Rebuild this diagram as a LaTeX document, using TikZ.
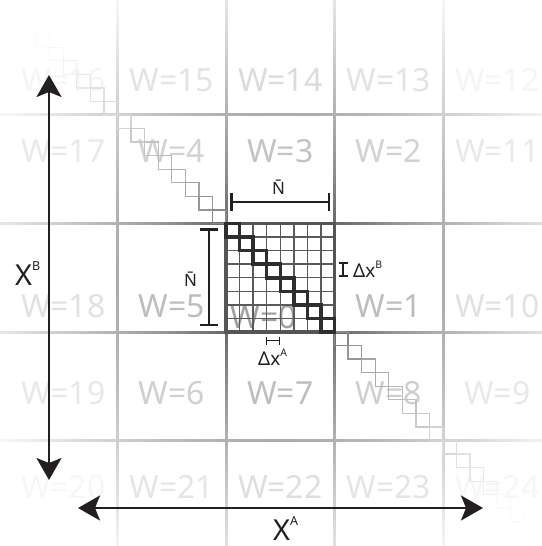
\documentclass[tikz,border=0pt]{standalone}
\usepackage{fontspec}
\setmainfont{Noto Sans}
\usetikzlibrary{arrows.meta}
\definecolor{ink}{HTML}{231F20}
\definecolor{gridc}{HTML}{555555}
\definecolor{labc}{HTML}{A0A0A0}
\definecolor{stairc}{HTML}{707070}
\definecolor{finec}{HTML}{5A5A5A}
\definecolor{diagc}{HTML}{2E2E2E}
\newcommand\upsc[3]{\raisebox{#1}{\fontsize{#2}{#2}\selectfont #3}}
% fade factor (in percent) at a point, from its distance to the centre of the grid
\newcommand\fadeat[2]{%
  \pgfmathsetmacro\fd{veclen((#1)-280.25,(#2)-277.75)}%
  \pgfmathsetmacro\fo{100*(\fd<54 ? 1 : (\fd<121 ? 1-(\fd-54)*0.35/67 : (\fd<165 ? 0.65-(\fd-121)*0.17/44 : (\fd<227 ? 0.48-(\fd-165)*0.19/62 : (\fd<274 ? 0.29-(\fd-227)*0.12/47 : (\fd<315 ? 0.17-(\fd-274)*0.11/41 : (\fd<350 ? 0.06-(\fd-315)*0.06/35 : 0)))))))}%
}
\begin{document}
\begin{tikzpicture}[x=1bp,y=-1bp,
  wlab/.style={font=\fontsize{32}{32}\selectfont, inner sep=0pt, anchor=base},
  gline/.style={line width=3bp, line cap=butt},
  stair/.style={line width=1.3bp},
  fine/.style={draw=finec, line width=1.4bp},
  diagsq/.style={draw=diagc, line width=3.5bp},
  dimbar/.style={draw=ink, line width=2.5bp},
  bigarrow/.style={draw=ink, line width=2.2bp, >={Stealth[length=22bp,width=25bp,inset=5bp]}, <->},
  ann/.style={text=ink, inner sep=0pt, anchor=base west},
  annc/.style={text=ink, inner sep=0pt, anchor=base}
]
\useasboundingbox (0,0) rectangle (542,546);
\def\s{13.5625}
% grid lines, fading away from the centre
\foreach \v in {117.5,226,334.5,443} {
  \foreach \y in {0,4,...,544} {
    \fadeat{\v}{\y+2}
    \draw[gline, draw=gridc!\fo!white] (\v,\y) -- (\v,\y+4.4);
  }
}
\foreach \h in {115,223.5,332,440.5} {
  \foreach \x in {0,4,...,540} {
    \fadeat{\x+2}{\h}
    \draw[gline, draw=gridc!\fo!white] (\x,\h) -- (\x+4.4,\h);
  }
}
% cell labels
\foreach \lab/\cx/\by in {16/63.25/92, 15/171.75/92, 14/280.25/92, 13/388.75/92, 12/497.25/92,
    17/63.25/163, 4/171.75/163, 3/280.25/163, 2/388.75/163, 11/497.25/163,
    18/63.25/317, 5/171.75/317, 0/264/328, 1/388.75/317, 10/497.25/317,
    19/63.25/404, 6/171.75/404, 7/280.25/404, 8/388.75/404, 9/497.25/404,
    20/63.25/498, 21/171.75/498, 22/280.25/498, 23/388.75/498, 24/497.25/498} {
  \fadeat{\cx}{\by-11}
  \node[wlab, text=labc!\fo!white] (w\lab) at (\cx,\by) {W=\lab};
}
% staircases in the diagonal cells
\foreach \cx/\cy in {9/6.5, 117.5/115, 334.5/332, 443/440.5} {
  \foreach \k in {0,...,7} {
    \fadeat{\cx+\k*\s+6.8}{\cy+\k*\s+6.8}
    \draw[stair, draw=stairc!\fo!white] ({\cx+\k*\s},{\cy+\k*\s}) rectangle ++(\s,\s);
  }
}
% central fine grid
\foreach \k in {1,...,7} {
  \draw[fine] ({226+\k*\s},223.5) -- ({226+\k*\s},332);
  \draw[fine] (226,{223.5+\k*\s}) -- (334.5,{223.5+\k*\s});
}
\draw[draw=gridc, line width=3.5bp] (226,223.5) rectangle (334.5,332);
\foreach \k in {0,...,7}
  \draw[diagsq] ({226+\k*\s},{223.5+\k*\s}) rectangle ++(\s,\s);
% big axes
\coordinate (vt) at (49,75);
\coordinate (vb) at (49,480);
\draw[bigarrow] (vt) -- (vb);
\coordinate (hl) at (78,508);
\coordinate (hr) at (483,508);
\draw[bigarrow] (hl) -- (hr);
\node[ann, font=\fontsize{29}{29}\selectfont] (xb) at (15,285) {X\upsc{14.5bp}{12.5}{B}};
\node[ann, font=\fontsize{29}{29}\selectfont] (xa) at (273,540) {X\upsc{14.5bp}{12.5}{A}};
% N bar horizontal
\coordinate (nl) at (230,202);
\coordinate (nr) at (330,202);
\draw[dimbar, {Bar[width=17bp]}-{Bar[width=17bp]}] (nl) -- (nr);
\node[annc, font=\fontsize{17}{17}\selectfont] (nbt) at (278.5,195) {N̄};
% N bar vertical
\coordinate (nvt) at (209,228);
\coordinate (nvb) at (209,326);
\draw[dimbar, {Bar[width=18bp]}-{Bar[width=18bp]}] (nvt) -- (nvb);
\node[annc, font=\fontsize{17}{17}\selectfont] (nbl) at (190.5,286.5) {N̄};
% delta x B
\coordinate (dbt) at (343,262);
\coordinate (dbb) at (343,277);
\draw[draw=ink, line width=2bp, {Bar[width=9bp]}-{Bar[width=9bp]}] (dbt) -- (dbb);
\node[ann, font=\fontsize{19}{19}\selectfont] (dxb) at (353,277) {Δx\upsc{8.5bp}{10.5}{B}};
% delta x A
\coordinate (dal) at (265.7,340.5);
\coordinate (dar) at (280.3,340.5);
\draw[draw=ink, line width=1.5bp, {Bar[width=8bp]}-{Bar[width=8bp]}] (dal) -- (dar);
\node[ann, font=\fontsize{19}{19}\selectfont] (dxa) at (258,365) {Δx\upsc{9bp}{10.5}{A}};
\end{tikzpicture}
\end{document}
